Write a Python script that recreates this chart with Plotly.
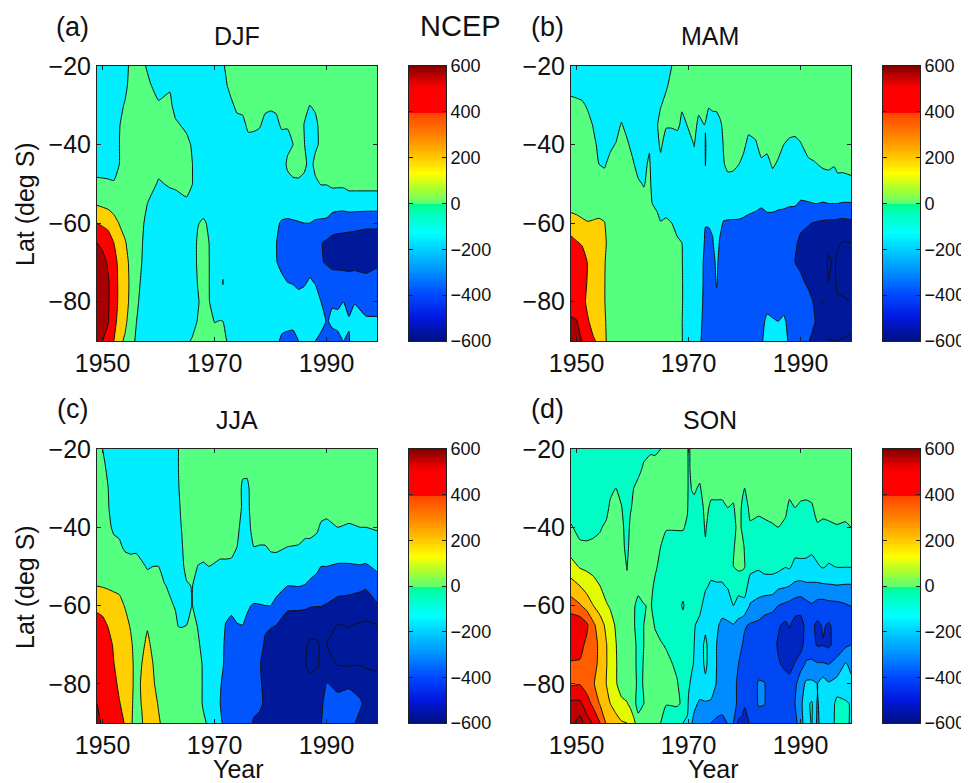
import plotly.graph_objects as go

lats = [-20,-25,-30,-35,-40,-45,-50,-55,-60,-65,-70,-75,-80,-85,-90]

djf_years = [1949,1950,1951,1952,1953,1954,1955,1956,1957,1958.5,1960,1962,1963,1965,1966,1967,1968,1969,1970,1971,1971.5,1972,1973,1974,1975,1976,1977,1978,1979,1980,1981,1982,1983,1984,1985,1986,1987,1988,1989,1990,1991,1992,1993,1994,1995,1997,1999]
djf_z = [
[-190,-190,-190,-190,-180,-160,-70,80,300,500,640,660,660,660,660],
[-190,-190,-190,-190,-180,-160,-75,60,270,450,570,600,600,580,500],
[-190,-190,-190,-190,-180,-160,-80,40,240,400,470,520,520,510,440],
[-190,-180,-175,-170,-165,-150,-90,10,170,300,370,390,390,370,300],
[-170,-150,-130,-105,-100,-100,-60,-20,90,200,250,260,260,220,140],
[-150,-130,-90,-60,-50,-50,-30,-20,20,120,160,170,170,140,75],
[-70,-60,-40,-20,-20,-20,-20,-20,-20,10,60,70,60,20,-40],
[-30,-20,-20,-20,-20,-20,-20,-20,-20,-20,-30,-50,-70,-95,-120],
[-60,-30,-25,-20,-20,-20,-20,-40,-70,-90,-100,-120,-140,-170,-190],
[-150,-90,-30,-20,-20,-20,-40,-130,-190,-200,-200,-200,-200,-200,-200],
[-190,-160,-80,-30,-20,-40,-120,-190,-200,-200,-200,-200,-200,-200,-200],
[-190,-120,-60,-30,-20,-20,-80,-180,-200,-200,-200,-200,-200,-200,-200],
[-200,-190,-160,-70,-30,-30,-70,-170,-200,-200,-200,-200,-200,-200,-200],
[-200,-200,-190,-140,-50,-20,-40,-130,-200,-200,-200,-200,-200,-190,-125],
[-200,-200,-200,-200,-120,-95,-95,-180,-200,-200,-200,-200,-200,-160,-85],
[-200,-200,-200,-200,-200,-200,-200,-200,-110,-70,-70,-90,-120,-90,-50],
[-200,-200,-200,-200,-200,-200,-200,-190,-70,-30,-30,-30,-30,-30,-20],
[-200,-200,-200,-200,-200,-200,-200,-200,-130,-100,-95,-95,-90,-60,-20],
[-200,-200,-200,-200,-200,-200,-200,-200,-200,-200,-200,-200,-200,-105,-30],
[-130,-170,-200,-200,-200,-200,-200,-200,-200,-200,-200,-150,-200,-95,-40],
[-110,-180,-200,-200,-200,-200,-200,-200,-200,-200,-200,-85,-200,-100,-60],
[-90,-110,-170,-200,-200,-200,-200,-200,-200,-200,-200,-200,-200,-130,-90],
[-40,-70,-115,-170,-200,-200,-200,-200,-200,-200,-200,-200,-200,-190,-150],
[-20,-40,-80,-130,-190,-200,-200,-200,-200,-200,-200,-200,-200,-200,-200],
[-20,-30,-60,-140,-200,-200,-200,-200,-200,-200,-200,-200,-200,-200,-200],
[-20,-20,-30,-70,-150,-200,-200,-200,-200,-200,-200,-200,-200,-200,-200],
[-20,-20,-30,-70,-160,-200,-200,-200,-200,-200,-200,-200,-200,-200,-200],
[-20,-20,-40,-85,-170,-200,-200,-200,-200,-200,-200,-200,-200,-200,-200],
[-20,-20,-70,-140,-190,-200,-200,-200,-200,-200,-200,-200,-200,-200,-200],
[-20,-20,-80,-150,-190,-200,-200,-200,-210,-220,-215,-200,-200,-200,-200],
[-20,-20,-70,-140,-190,-200,-200,-200,-270,-295,-290,-210,-200,-200,-250],
[-20,-20,-30,-75,-180,-200,-200,-200,-320,-370,-350,-260,-200,-230,-340],
[-20,-20,-30,-90,-140,-70,-160,-200,-330,-380,-370,-300,-220,-250,-350],
[-20,-20,-20,-50,-100,-40,-130,-200,-320,-390,-390,-310,-230,-260,-350],
[-20,-20,-20,-20,-40,-30,-130,-200,-310,-400,-400,-330,-250,-240,-300],
[-20,-20,-60,-105,-95,-70,-140,-200,-300,-400,-390,-320,-230,-200,-200],
[-20,-40,-100,-170,-170,-140,-190,-210,-300,-410,-370,-280,-200,-200,-200],
[-20,-30,-80,-130,-120,-70,-120,-210,-320,-490,-410,-310,-230,-200,-300],
[-20,-20,-30,-60,-80,-40,-95,-190,-330,-490,-480,-360,-300,-240,-350],
[-20,-20,-20,-20,-30,-30,-95,-190,-340,-530,-520,-370,-330,-310,-380],
[-20,-20,-20,-20,-20,-30,-70,-210,-400,-560,-540,-430,-310,-280,-340],
[-20,-20,-20,-20,-20,-30,-70,-220,-420,-570,-550,-420,-320,-270,-330],
[-20,-20,-20,-20,-20,-30,-70,-220,-430,-570,-550,-430,-300,-230,-300],
[-20,-20,-20,-20,-20,-30,-50,-190,-440,-570,-560,-430,-330,-290,-310],
[-20,-20,-20,-20,-20,-30,-50,-190,-450,-570,-550,-430,-310,-230,-200],
[-20,-20,-20,-20,-20,-30,-50,-190,-470,-570,-550,-460,-340,-285,-210],
[-20,-20,-20,-20,-20,-30,-50,-190,-470,-570,-530,-420,-330,-290,-220],
]

mam_years = [1949,1950,1951,1952,1953,1954,1955,1956,1957,1958,1959,1960,1961,1962,1962.6,1963,1963.5,1964.4,1965,1966,1967,1968,1968.8,1969.7,1971,1971.8,1972.8,1973,1973.6,1974.3,1975,1975.6,1976.2,1977,1978,1979,1979.8,1980.7,1982,1983,1984,1985,1986,1987,1988,1989,1990,1991.4,1992.5,1993,1994,1995,1996,1996.6,1997.5,1999]
mam_z = [
[-190,-165,-45,-20,-10,0,0,40,170,370,420,420,470,510,600],
[-190,-170,-60,-20,-10,0,0,20,160,315,400,400,440,505,580],
[-190,-180,-75,-20,-10,0,0,10,130,280,400,400,370,440,490],
[-190,-185,-120,-50,-20,-10,0,0,110,210,290,280,250,320,420],
[-190,-190,-170,-110,-70,-40,-20,0,120,190,210,210,210,230,320],
[-190,-190,-190,-170,-130,-100,-60,40,120,170,180,180,180,190,270],
[-190,-190,-190,-190,-140,-110,-60,30,105,130,110,105,105,120,130],
[-190,-190,-190,-170,-120,-70,-30,-10,10,30,10,10,10,20,25],
[-190,-190,-190,-150,-95,-40,-20,-10,-10,-10,-10,-10,-10,-10,-10],
[-190,-190,-160,-90,-60,-30,-20,-10,-10,-10,-10,-10,-10,-10,-10],
[-190,-190,-190,-140,-80,-40,-20,-10,-10,-10,-10,-10,-10,-10,-10],
[-190,-190,-190,-190,-140,-80,-40,-20,-10,-10,-10,-10,-10,-10,-10],
[-190,-190,-190,-190,-190,-150,-80,-30,-20,-10,-10,-10,-10,-10,-10],
[-190,-190,-190,-190,-190,-180,-110,-50,-20,-10,-10,-10,-10,-10,-10],
[-190,-190,-190,-190,-170,-100,-80,-60,-20,-10,-10,-10,-10,-10,-10],
[-190,-190,-190,-190,-115,-80,-70,-80,-30,-10,-10,-10,-10,-10,-10],
[-200,-200,-200,-200,-150,-160,-130,-100,-50,-20,-10,-10,-10,-10,-10],
[-200,-200,-190,-110,-130,-200,-200,-130,-60,-20,-10,-10,-10,-10,-10],
[-200,-190,-110,-30,-80,-130,-190,-190,-90,-30,-20,-20,-20,-20,-20],
[-170,-120,-50,-90,-150,-190,-200,-180,-70,-20,-20,-20,-20,-20,-20],
[-100,-50,-30,-90,-150,-200,-200,-190,-100,-40,-20,-20,-20,-20,-20],
[-20,-20,-50,-80,-150,-200,-200,-200,-170,-70,-30,-30,-30,-30,-40],
[-20,-20,-90,-120,-170,-200,-200,-200,-190,-100,-90,-85,-85,-95,-90],
[-20,-20,-50,-100,-170,-200,-200,-200,-200,-190,-190,-190,-190,-170,-190],
[-20,-20,-40,-60,-95,-140,-200,-200,-200,-200,-200,-200,-200,-200,-200],
[-20,-20,-70,-130,-170,-200,-200,-200,-200,-200,-220,-230,-250,-260,-270],
[-20,-20,-40,-100,-170,-200,-200,-200,-200,-300,-320,-320,-320,-330,-340],
[-20,-20,-40,-110,-85,-95,-170,-200,-290,-340,-350,-350,-350,-350,-350],
[-20,-20,-95,-130,-190,-200,-200,-200,-280,-370,-370,-370,-370,-370,-370],
[-20,-20,-85,-135,-200,-200,-200,-200,-280,-310,-380,-370,-370,-370,-370],
[-20,-20,-80,-140,-200,-200,-200,-220,-270,-230,-250,-285,-340,-370,-380],
[-20,-20,-60,-120,-180,-200,-200,-220,-260,-320,-380,-370,-370,-370,-370],
[-20,-20,-40,-80,-95,-110,-190,-220,-310,-380,-380,-380,-380,-380,-380],
[-20,-20,-20,-20,-30,-70,-145,-200,-320,-400,-400,-390,-390,-390,-390],
[-20,-20,-20,-20,-30,-75,-150,-210,-320,-400,-400,-390,-390,-390,-390],
[-20,-20,-20,-20,-50,-100,-170,-220,-320,-400,-400,-390,-390,-390,-390],
[-20,-20,-20,-20,-75,-130,-190,-230,-330,-400,-400,-390,-390,-390,-390],
[-20,-20,-20,-70,-130,-170,-200,-250,-340,-400,-400,-390,-390,-390,-390],
[-20,-20,-20,-50,-115,-190,-200,-260,-360,-400,-400,-390,-390,-390,-380],
[-20,-20,-20,-20,-50,-125,-200,-280,-370,-400,-400,-390,-390,-370,-330],
[-20,-20,-20,-20,-60,-145,-200,-260,-350,-400,-400,-390,-380,-250,-200],
[-20,-20,-20,-20,-20,-80,-170,-260,-350,-400,-400,-390,-390,-280,-200],
[-20,-20,-20,-20,-50,-120,-190,-270,-360,-400,-400,-390,-390,-300,-200],
[-20,-20,-20,-40,-100,-180,-200,-270,-380,-400,-400,-390,-390,-260,-250],
[-20,-20,-20,-50,-125,-190,-200,-280,-400,-430,-450,-420,-400,-370,-320],
[-20,-20,-20,-50,-135,-190,-200,-280,-420,-470,-500,-430,-400,-390,-380],
[-20,-20,-20,-30,-110,-190,-200,-320,-460,-540,-530,-470,-420,-400,-400],
[-20,-20,-20,-20,-40,-130,-200,-310,-490,-560,-560,-530,-450,-420,-490],
[-20,-20,-20,-20,-40,-110,-190,-300,-510,-580,-590,-580,-520,-490,-560],
[-20,-20,-20,-20,-30,-100,-180,-300,-520,-590,-610,-600,-540,-540,-580],
[-20,-20,-20,-20,-30,-80,-170,-310,-530,-620,-640,-640,-490,-590,-620],
[-20,-20,-20,-20,-30,-70,-170,-300,-540,-670,-720,-700,-600,-620,-710],
[-20,-20,-20,-20,-30,-90,-170,-300,-540,-680,-680,-670,-630,-630,-700],
[-20,-20,-20,-20,-30,-60,-150,-300,-550,-680,-730,-730,-680,-640,-700],
[-20,-20,-20,-20,-30,-70,-140,-310,-560,-710,-760,-750,-680,-640,-710],
[-20,-20,-20,-20,-30,-60,-130,-310,-540,-700,-770,-770,-700,-650,-730],
]

jja_years = [1949,1950,1951,1952,1953,1954,1955,1956,1957,1958,1959,1960,1961,1962,1963,1963.5,1964,1965,1966,1967,1968,1969,1971,1972,1973,1974,1975,1975.8,1976.5,1977,1978,1979,1980,1981,1983,1985,1986.2,1987,1988.3,1989,1990,1992,1994,1996,1997,1999]
jja_z = [
[-20,-20,-20,-20,-20,-20,-10,100,260,370,410,420,440,500,540],
[-100,-60,-30,-20,-20,-20,-10,90,240,350,400,410,420,440,480],
[-180,-130,-100,-90,-65,-30,-10,80,200,290,360,380,390,420,440],
[-190,-190,-180,-170,-130,-50,-20,70,170,240,280,305,350,360,380],
[-190,-190,-190,-180,-130,-80,-30,60,150,200,220,240,260,310,350],
[-190,-190,-190,-190,-170,-120,-40,30,90,160,190,200,220,240,290],
[-190,-190,-190,-190,-180,-130,-50,10,50,85,130,150,150,140,130],
[-190,-190,-190,-190,-190,-120,-60,-20,-10,0,30,40,40,30,20],
[-190,-190,-190,-190,-190,-150,-80,-30,-10,0,50,100,120,110,80],
[-190,-190,-190,-190,-190,-180,-110,-50,-20,80,150,190,200,220,220],
[-190,-190,-190,-190,-190,-190,-100,-40,-20,-10,50,100,130,190,220],
[-190,-190,-190,-190,-190,-190,-100,-60,-20,-10,-10,-10,20,80,130],
[-190,-190,-190,-190,-190,-190,-150,-90,-30,-20,-20,-20,-20,-10,30],
[-190,-190,-190,-190,-190,-190,-180,-120,-80,-30,-20,-20,-20,-20,-20],
[-170,-170,-170,-180,-190,-190,-190,-170,-110,-70,-30,-20,-20,-20,-20],
[-105,-105,-115,-140,-170,-180,-190,-190,-140,-105,-30,-20,-20,-20,-20],
[-50,-50,-60,-80,-105,-120,-140,-180,-170,-110,-30,-20,-20,-20,-20],
[-20,-20,-20,-20,-20,-50,-60,-115,-140,-100,-30,-20,-20,-20,-20],
[-20,-20,-20,-20,-20,-20,-30,-95,-95,-40,-20,-20,-20,-20,-20],
[-20,-20,-20,-20,-20,-20,-105,-170,-190,-110,-70,-40,-30,-30,-20],
[-20,-20,-20,-20,-20,-30,-120,-190,-200,-190,-160,-120,-120,-120,-70],
[-20,-20,-20,-20,-20,-30,-100,-200,-200,-200,-200,-200,-200,-190,-130],
[-20,-20,-20,-20,-20,-50,-130,-200,-210,-210,-220,-240,-290,-300,-280],
[-20,-20,-20,-20,-20,-50,-130,-190,-230,-310,-340,-340,-350,-360,-340],
[-20,-20,-20,-20,-20,-60,-130,-200,-260,-340,-390,-390,-390,-390,-390],
[-20,-20,-20,-25,-50,-100,-170,-200,-260,-305,-390,-400,-400,-400,-400],
[-20,-70,-125,-120,-170,-190,-200,-220,-260,-300,-390,-400,-410,-410,-410],
[-20,-70,-130,-140,-190,-190,-200,-220,-280,-330,-400,-410,-420,-420,-430],
[-20,-20,-70,-70,-85,-140,-200,-220,-300,-350,-410,-420,-420,-430,-480],
[-20,-20,-20,-20,-50,-100,-170,-220,-310,-370,-410,-420,-430,-450,-520],
[-20,-20,-20,-20,-50,-105,-170,-240,-305,-370,-440,-490,-480,-470,-540],
[-20,-20,-20,-20,-50,-105,-170,-250,-300,-480,-520,-540,-530,-520,-560],
[-20,-20,-20,-20,-50,-90,-130,-250,-300,-490,-550,-570,-570,-570,-580],
[-20,-20,-20,-20,-50,-80,-150,-260,-330,-500,-570,-590,-590,-590,-590],
[-20,-20,-20,-20,-50,-100,-170,-300,-480,-550,-590,-600,-600,-600,-600],
[-20,-20,-20,-20,-60,-105,-170,-295,-480,-560,-620,-620,-600,-600,-600],
[-20,-20,-20,-20,-60,-130,-200,-310,-480,-580,-670,-695,-640,-600,-600],
[-20,-20,-20,-20,-60,-130,-220,-340,-490,-600,-740,-740,-650,-600,-560],
[-20,-20,-20,-20,-80,-150,-270,-360,-495,-600,-730,-720,-620,-570,-530],
[-20,-20,-20,-50,-120,-190,-300,-380,-495,-590,-670,-660,-580,-540,-510],
[-20,-20,-20,-60,-130,-190,-300,-400,-510,-610,-700,-630,-490,-430,-420],
[-20,-20,-20,-40,-100,-190,-320,-430,-560,-710,-760,-710,-540,-450,-420],
[-20,-20,-20,-40,-115,-190,-320,-440,-570,-690,-770,-720,-520,-440,-430],
[-20,-20,-20,-40,-100,-190,-310,-470,-570,-720,-770,-705,-590,-470,-560],
[-20,-20,-20,-40,-100,-190,-320,-480,-590,-730,-760,-720,-620,-560,-620],
[-20,-20,-20,-40,-85,-170,-270,-380,-520,-705,-760,-730,-650,-600,-650],
]

son_years = [1949,1950.6,1951.8,1953,1954.2,1955.3,1956,1957,1958,1959,1959.6,1960.2,1961,1962,1963.2,1964,1965,1966,1967.9,1969,1969.8,1970,1970.6,1971,1972,1973,1974,1975,1976,1977,1978,1978.9,1979.6,1980,1981,1982.5,1983.5,1985,1986,1987.3,1988,1989,1990,1991,1992,1993,1994,1995,1996.5,1998,1999]
son_z = [
[-100,-100,-100,-100,-40,0,90,190,300,420,440,330,335,470,520],
[-100,-100,-100,-100,-85,-30,40,150,260,420,380,340,345,470,600],
[-100,-100,-100,-100,-95,-30,30,110,210,370,330,310,300,400,490],
[-100,-100,-100,-100,-75,-30,20,80,150,270,300,300,260,320,440],
[-100,-100,-100,-100,-60,-20,0,50,110,190,220,210,190,240,350],
[-100,-100,-100,-85,-30,0,0,10,60,130,155,155,150,170,240],
[-100,-100,-75,-30,0,0,0,0,40,90,110,120,110,150,200],
[-100,-85,-50,-10,0,0,0,0,0,40,55,60,60,120,180],
[-100,-100,-80,-45,-20,-10,0,0,0,0,0,0,10,70,160],
[-100,-100,-100,-100,-95,-85,-55,-30,-10,0,0,0,0,55,150],
[-100,-100,-90,-60,-30,-10,0,0,0,0,0,0,0,30,110],
[-100,-100,-50,-30,0,0,0,0,-30,-40,-20,-20,-20,0,70],
[-95,-70,-30,0,0,0,0,0,-100,-90,-80,-80,-70,-110,10],
[-70,-40,-20,0,0,0,0,0,-55,-50,-50,-45,-45,-50,0],
[-60,-25,0,0,0,0,0,-20,-40,0,0,0,0,0,0],
[-65,-20,0,0,0,0,-30,-70,-90,-60,-10,0,0,0,0],
[-50,-10,0,0,-30,-50,-80,-100,-100,-90,-40,-5,-5,-5,-50],
[0,0,0,0,-40,-100,-100,-100,-100,-100,-60,-20,-10,-45,-100],
[0,0,0,0,-40,-100,-100,-100,-100,-100,-100,-70,-40,-40,-100],
[-15,-10,-10,-15,-40,-100,-100,-100,-165,-100,-100,-100,-100,-60,-150],
[-30,-30,-30,-40,-70,-100,-100,-100,-100,-100,-100,-100,-100,-120,-170],
[-75,-70,-70,-80,-100,-100,-100,-100,-100,-100,-100,-110,-130,-170,-210],
[-10,-20,-45,-75,-100,-100,-100,-100,-100,-110,-120,-135,-180,-220,-250],
[-5,-10,-40,-70,-105,-100,-100,-110,-130,-145,-150,-160,-200,-235,-270],
[0,-20,-60,-100,-100,-100,-105,-120,-130,-170,-190,-200,-210,-260,-280],
[0,0,0,-20,-40,-60,-100,-140,-180,-170,-130,-130,-170,-260,-310],
[0,0,-20,-70,-100,-100,-125,-160,-200,-200,-200,-200,-210,-260,-350],
[0,0,-20,-70,-100,-100,-130,-155,-200,-230,-250,-250,-255,-300,-370],
[0,0,-20,-70,-100,-100,-130,-155,-195,-280,-300,-300,-300,-310,-380],
[0,0,-20,-50,-100,-100,-130,-145,-180,-270,-300,-300,-300,-320,-345],
[0,0,-20,-60,-90,-60,-50,-120,-150,-255,-300,-320,-320,-320,-350],
[0,0,0,0,-10,-10,-25,-130,-170,-290,-330,-350,-370,-370,-470],
[0,0,-30,-70,-70,-20,-30,-130,-165,-310,-350,-370,-385,-400,-480],
[0,-20,-50,-90,-100,-60,-45,-120,-170,-340,-370,-390,-400,-440,-490],
[0,0,-10,-30,-60,-100,-130,-180,-260,-360,-400,-400,-410,-430,-440],
[0,0,0,-35,-70,-100,-140,-190,-290,-370,-400,-390,-340,-340,-400],
[0,0,0,-30,-65,-100,-125,-190,-310,-390,-400,-400,-345,-345,-400],
[0,0,0,-30,-55,-100,-120,-195,-320,-410,-420,-420,-400,-400,-400],
[0,0,0,-20,-50,-100,-120,-230,-350,-440,-460,-440,-400,-400,-400],
[0,0,0,-35,-65,-100,-145,-240,-370,-470,-480,-470,-410,-400,-400],
[0,0,-30,-65,-85,-100,-135,-250,-380,-440,-510,-500,-400,-400,-400],
[0,0,-20,-50,-80,-110,-180,-270,-400,-490,-520,-440,-370,-350,-380],
[0,0,-30,-60,-85,-120,-170,-280,-410,-490,-500,-380,-300,-280,-300],
[0,0,-20,-70,-95,-130,-165,-270,-380,-420,-390,-340,-230,-170,-180],
[0,0,-20,-60,-90,-140,-165,-270,-360,-430,-410,-330,-230,-140,-145],
[0,0,0,-20,-60,-110,-160,-270,-385,-470,-460,-340,-250,-260,-270],
[0,0,0,-30,-65,-100,-140,-265,-390,-440,-455,-340,-200,-200,-200],
[0,0,0,-30,-60,-100,-160,-260,-380,-460,-470,-350,-240,-230,-230],
[0,0,0,-20,-55,-100,-145,-255,-375,-420,-400,-320,-210,-120,-110],
[0,0,0,-25,-60,-100,-145,-260,-360,-400,-370,-240,-200,-140,-110],
[0,0,0,-20,-50,-90,-145,-260,-345,-400,-350,-270,-230,-155,-170],
]

year_ticks = [1950, 1970, 1990]
lat_ticks = [-20, -40, -60, -80]
cbar_ticks = [-600, -400, -200, 0, 200, 400, 600]
cbar_values = list(range(-600, 601, 10))

titles = ["DJF", "MAM", "JJA", "SON"]
letters = ["(a)", "(b)", "(c)", "(d)"]

OFF = 8  # the page body's own margin
W, H = 969 - OFF, 783 - OFF
FONT = "Liberation Sans"

def fx(px):
    return (px - OFF) / W

def fy(py):
    return 1 - (py - OFF) / H

fill_scale = [[0.0, "#00189a"], [100/1200, "#0030e0"], [200/1200, "#0055ff"], [300/1200, "#00a0ff"],
              [400/1200, "#00eeff"], [500/1200, "#00ffc0"], [600/1200, "#55ff80"], [700/1200, "#e0ff00"],
              [800/1200, "#ffd000"], [900/1200, "#ff8000"], [1000/1200, "#ff0000"], [1100/1200, "#d80000"],
              [1.0, "#a80000"]]
bar_stops = [(-600, "#001080"), (-500, "#0018e0"), (-400, "#0048ff"), (-300, "#0090ff"), (-200, "#00d0ff"),
             (-130, "#00ffff"), (-50, "#00ffc0"), (0, "#00ff88"), (0, "#60ff70"), (60, "#a8ff30"),
             (130, "#ffff00"), (200, "#ffc800"), (300, "#ff8000"), (400, "#ff4000"), (400, "#ff0000"),
             (500, "#ff0000"), (530, "#e00000"), (600, "#800000")]
bar_scale = [[(v + 600) / 1200, c] for v, c in bar_stops]

panels = [
    (djf_years, djf_z, 97, 377, 66, 341, 409, 446, -700, 700, 200),
    (mam_years, mam_z, 571, 851, 66, 341, 883, 920, -700, 700, 200),
    (jja_years, jja_z, 97, 377, 449, 723, 409, 446, -700, 700, 200),
    (son_years, son_z, 571, 851, 449, 723, 883, 920, -550, 650, 100),
]

fig = go.Figure()
layout = {}
AX = dict(showline=True, linecolor="#222222", linewidth=1, mirror="ticks", ticks="inside", ticklen=4,
          tickcolor="#222222", showgrid=False, zeroline=False, automargin=False,
          tickfont=dict(family=FONT, size=25, color="#111111"))

for i, (yrs, z_cols, x0, x1, y0, y1, cx0, cx1, lo, hi, step) in enumerate(panels):
    n = 2 * i + 1
    xa, ya = f"x{n}", f"y{n}"
    ca, cb = f"x{n + 1}", f"y{n + 1}"
    z_rows = [list(row) for row in zip(*z_cols)]
    fig.add_trace(go.Contour(
        x=yrs, y=lats, z=z_rows, xaxis=xa, yaxis=ya, zmin=-600, zmax=600, zauto=False,
        colorscale=fill_scale, showscale=False, autocontour=False, hoverinfo="skip",
        contours=dict(start=lo, end=hi, size=step, coloring="fill", showlines=True),
        line=dict(color="#111111", width=1, smoothing=0.4)))
    fig.add_trace(go.Heatmap(
        x=[0], y=cbar_values, z=[[v] for v in cbar_values], xaxis=ca, yaxis=cb, zmin=-600, zmax=600,
        colorscale=bar_scale, showscale=False, hoverinfo="skip"))
    layout[f"xaxis{n}"] = dict(AX, domain=[fx(x0), fx(x1)], range=[1949, 1999], tickvals=year_ticks,
                               ticktext=[str(t) for t in year_ticks], anchor=ya)
    layout[f"yaxis{n}"] = dict(AX, domain=[fy(y1), fy(y0)], range=[-90, -20], tickvals=lat_ticks, anchor=xa)
    layout[f"xaxis{n + 1}"] = dict(domain=[fx(cx0), fx(cx1)], range=[-0.5, 0.5], showticklabels=False, ticks="",
                                   showline=True, linecolor="#222222", linewidth=1, mirror=True, automargin=False,
                                   showgrid=False, zeroline=False, anchor=cb)
    layout[f"yaxis{n + 1}"] = dict(AX, domain=[fy(y1), fy(y0)], range=[-600, 600], tickvals=cbar_ticks,
                                   side="right", anchor=ca,
                                   tickfont=dict(family=FONT, size=18, color="#111111"))

notes = []
def note(text, px, py, size, angle=0):
    notes.append(dict(text=text, x=fx(px), y=fy(py), xref="paper", yref="paper", showarrow=False,
                      xanchor="center", yanchor="middle", textangle=angle,
                      font=dict(family=FONT, size=size, color="#111111")))

for t, px, py in zip(titles, [237, 710, 237, 710], [36, 36, 420, 420]):
    note(t, px, py, 25)
for t, px, py in zip(letters, [72, 547, 72, 547], [27, 27, 409, 409]):
    note(t, px, py, 27)
note("NCEP", 460, 26, 29)
note("Year", 238, 769, 25)
note("Year", 713, 769, 25)
note("Lat (deg S)", 25, 204, 25, -90)
note("Lat (deg S)", 25, 587, 25, -90)

fig.update_layout(width=W, height=H, margin=dict(l=0, r=0, t=0, b=0), paper_bgcolor="white", plot_bgcolor="white",
                  showlegend=False, annotations=notes, **layout)
fig.write_html("out.html")
